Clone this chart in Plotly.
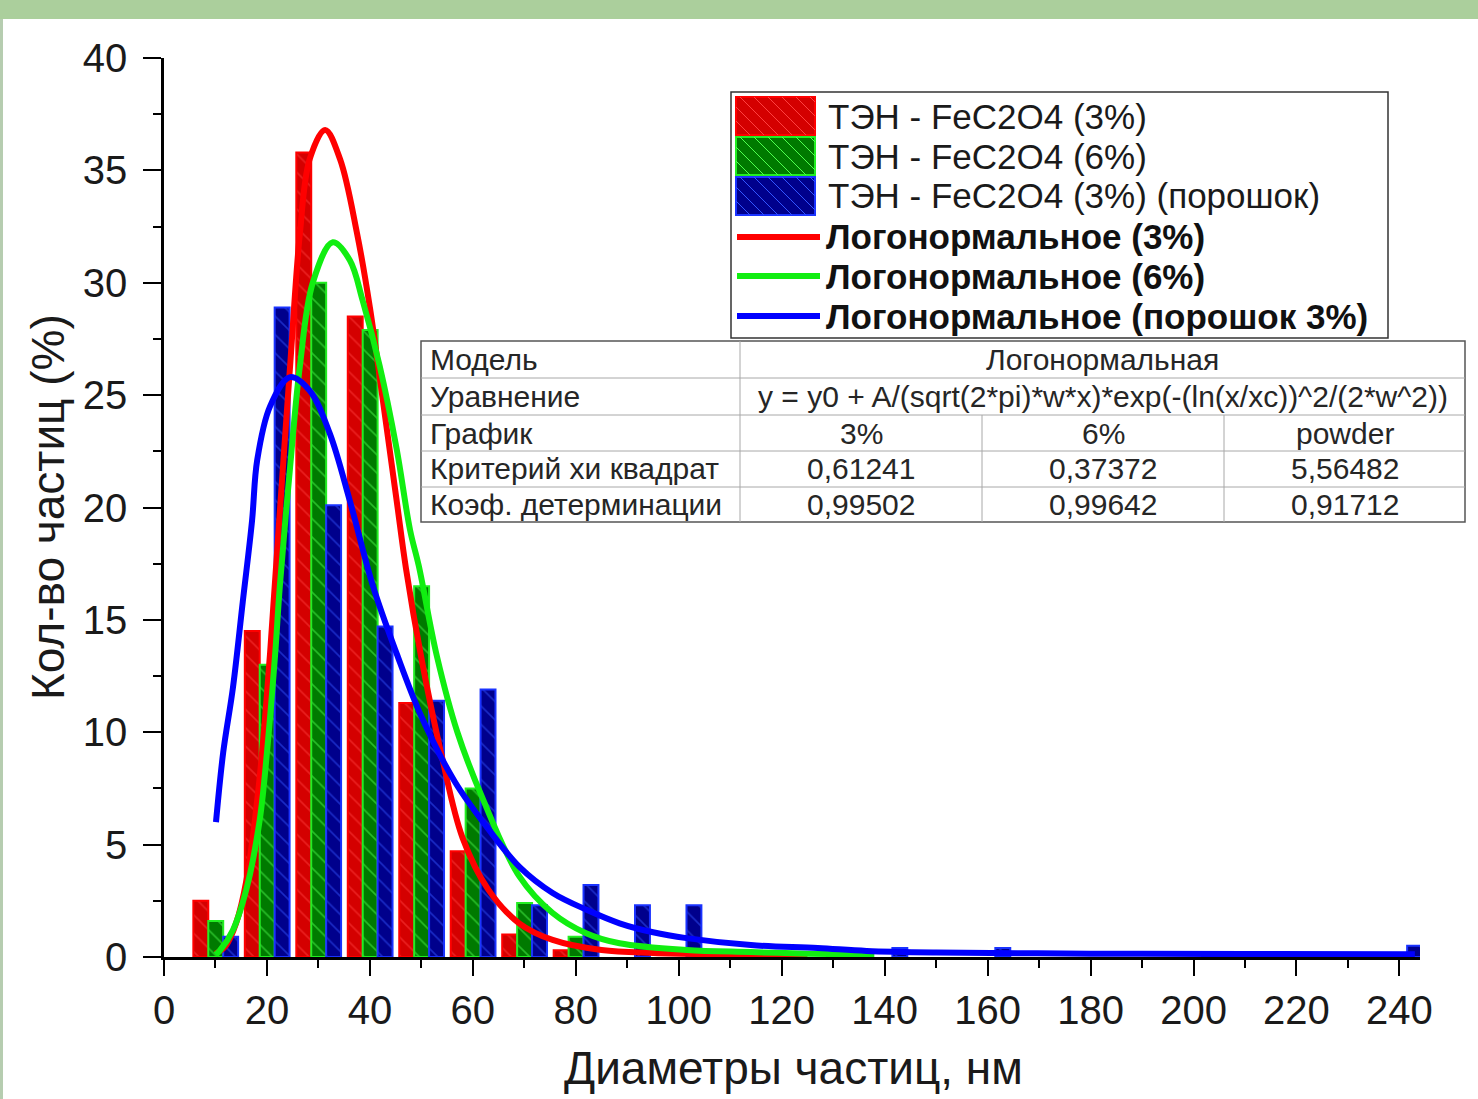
import plotly.graph_objects as go

# ---------------- data ----------------
red_x = [10, 20, 30, 40, 50, 60, 70, 80]
red_y = [2.5, 14.5, 35.8, 28.5, 11.3, 4.7, 1.0, 0.3]
green_x = [10, 20, 30, 40, 50, 60, 70, 80]
green_y = [1.6, 13.0, 30.0, 27.9, 16.5, 7.5, 2.4, 0.9]
blue_x = [10, 20, 30, 40, 50, 60, 70, 80, 90, 100, 140, 160, 240]
blue_y = [0.9, 28.9, 20.1, 14.7, 11.4, 11.9, 2.3, 3.2, 2.3, 2.3, 0.4, 0.4, 0.5]

fit_red_x = [10, 12, 14, 16, 18.5, 20.6, 22.5, 24.5, 26.4, 28.3, 31.3, 34.2, 37.5, 40, 42.5,
             45.2, 47, 50, 54, 58, 63, 69, 75.5, 85, 95, 110, 125]
fit_red_y = [0.15, 0.5, 1.5, 3.4, 7.8, 13.5, 19.8, 26.3, 32.2, 35.5, 36.8, 35.5, 32.2, 28.9, 24.8,
             20.3, 17.3, 13.3, 8.9, 5.3, 3.0, 1.5, 0.76, 0.31, 0.18, 0.12, 0.1]
fit_green_x = [10, 10.9, 13.4, 16.1, 18.6, 20, 21.6, 22.5, 24.5, 26.4, 28.9, 32.8, 36.1, 38.6,
               41.9, 45.2, 47.8, 49.5, 53, 57, 62, 69, 75.5, 82, 88.5, 101.5, 114, 125, 138]
fit_green_y = [0.1, 0.3, 1.2, 3.1, 6.1, 9.1, 13.5, 16.5, 21.8, 26.3, 30.0, 31.8, 31.0, 29.2,
               26.3, 22.6, 19.0, 17.4, 13.4, 10.0, 7.0, 3.6, 1.96, 1.06, 0.61, 0.31, 0.22, 0.15, 0.1]
fit_blue_x = [10.1, 11.5, 13.4, 15.3, 17.1, 18.1, 20.6, 24.5, 28.3, 32.2, 36.1, 40.6, 45.2, 50,
              56.5, 63, 69.1, 75.5, 82.1, 88.5, 95, 101.5, 114, 127, 136.5, 150, 180, 210, 243]
fit_blue_y = [6.0, 9.1, 12.0, 15.8, 19.4, 22.1, 24.5, 25.8, 25.2, 23.3, 20.3, 16.5, 13.5, 10.7,
              7.8, 5.7, 4.0, 2.85, 2.1, 1.5, 1.1, 0.84, 0.53, 0.4, 0.27, 0.2, 0.15, 0.13, 0.12]

bar_names = ["ТЭН - FeC2O4 (3%)", "ТЭН - FeC2O4 (6%)", "ТЭН - FeC2O4 (3%) (порошок)"]
fit_names = ["Логонормальное (3%)", "Логонормальное (6%)", "Логонормальное (порошок 3%)"]

table_rows = [
    ["Модель", "Логонормальная"],
    ["Уравнение", "y = y0 + A/(sqrt(2*pi)*w*x)*exp(-(ln(x/xc))^2/(2*w^2))"],
    ["График", "3%", "6%", "powder"],
    ["Критерий хи квадрат", "0,61241", "0,37372", "5,56482"],
    ["Коэф. детерминации", "0,99502", "0,99642", "0,91712"],
]

# ---------------- style ----------------
FONT = "Liberation Sans, Arial, sans-serif"
W, H = 1478, 1099
L, R, T, B = 164, 58, 58, 142
PW, PH = W - L - R, H - T - B


def px(x):
    return (x - L) / PW


def py(y):
    return (H - B - y) / PH


bar_styles = [
    dict(bg="#d40000", fg="#ff4040", edge="#ff0000", offset=-4.3),
    dict(bg="#007a00", fg="#50ff50", edge="#22ee22", offset=-1.4),
    dict(bg="#00008c", fg="#3355ff", edge="#1a33ff", offset=1.5),
]
line_colors = ["#ff0000", "#11ee11", "#0000ff"]

fig = go.Figure()
for (xs, ys, name, st) in zip([red_x, green_x, blue_x], [red_y, green_y, blue_y], bar_names, bar_styles):
    fig.add_trace(go.Bar(
        x=xs, y=ys, name=name, width=2.9, offset=st["offset"],
        marker=dict(color=st["bg"], line=dict(color=st["edge"], width=2),
                    pattern=dict(shape="\\", fgcolor=st["fg"], bgcolor=st["bg"],
                                 size=13, solidity=0.12, fillmode="overlay")),
        showlegend=False,
    ))

for (xs, ys, name, c) in zip([fit_red_x, fit_green_x, fit_blue_x], [fit_red_y, fit_green_y, fit_blue_y],
                             fit_names, line_colors):
    fig.add_trace(go.Scatter(x=xs, y=ys, name=name, mode="lines",
                             line=dict(color=c, width=6, shape="spline", smoothing=1.0),
                             showlegend=False))

shapes = []
annotations = []

# top green band and left edge
shapes.append(dict(type="rect", xref="paper", yref="paper", x0=px(0), x1=px(W), y0=py(19), y1=py(0),
                   fillcolor="#abcf9c", line=dict(width=0), layer="above"))
shapes.append(dict(type="rect", xref="paper", yref="paper", x0=px(0), x1=px(3), y0=py(H), y1=py(19),
                   fillcolor="#b6cdb0", line=dict(width=0), layer="above"))

# ---- legend (drawn) ----
lx0, lx1, ly0, ly1 = 731, 1388, 92, 338
shapes.append(dict(type="rect", xref="paper", yref="paper", x0=px(lx0), x1=px(lx1), y0=py(ly1), y1=py(ly0),
                   fillcolor="white", line=dict(color="#333333", width=1.5), layer="above"))
row_c = [116, 156, 196, 237, 276, 316]
for i, st in enumerate(bar_styles):
    cy = row_c[i]
    sx0, sx1, sy0, sy1 = 736, 815, cy - 19, cy + 19
    shapes.append(dict(type="rect", xref="paper", yref="paper", x0=px(sx0), x1=px(sx1), y0=py(sy1), y1=py(sy0),
                       fillcolor=st["bg"], line=dict(color=st["edge"], width=2), layer="above"))
    hgt = sy1 - sy0
    k = sx0 - hgt
    while k < sx1:
        xa, ya = k, sy0
        xb, yb = k + hgt, sy1
        if xa < sx0:
            ya = sy0 + (sx0 - xa)
            xa = sx0
        if xb > sx1:
            yb = sy1 - (xb - sx1)
            xb = sx1
        if xb > xa:
            shapes.append(dict(type="line", xref="paper", yref="paper", x0=px(xa), y0=py(ya), x1=px(xb), y1=py(yb),
                               line=dict(color=st["fg"], width=1), layer="above"))
        k += 14
    annotations.append(dict(xref="paper", yref="paper", x=px(826), y=py(cy), text=bar_names[i],
                            showarrow=False, xanchor="left", yanchor="middle",
                            font=dict(family=FONT, size=35, color="#1a1a1a")))
for i, c in enumerate(line_colors):
    cy = row_c[3 + i]
    shapes.append(dict(type="line", xref="paper", yref="paper", x0=px(737), x1=px(820), y0=py(cy), y1=py(cy),
                       line=dict(color=c, width=6), layer="above"))
    annotations.append(dict(xref="paper", yref="paper", x=px(824), y=py(cy), text="<b>" + fit_names[i] + "</b>",
                            showarrow=False, xanchor="left", yanchor="middle",
                            font=dict(family=FONT, size=35, color="#111111")))

# ---- statistics table (drawn) ----
tx = [421, 740, 982, 1224, 1465]
ty = [341, 378, 415, 451, 487, 522]
shapes.append(dict(type="rect", xref="paper", yref="paper", x0=px(tx[0]), x1=px(tx[-1]), y0=py(ty[-1]), y1=py(ty[0]),
                   fillcolor="white", line=dict(color="#555555", width=1.5), layer="above"))
for yy in ty[1:-1]:
    shapes.append(dict(type="line", xref="paper", yref="paper", x0=px(tx[0]), x1=px(tx[-1]), y0=py(yy), y1=py(yy),
                       line=dict(color="#a8a8a8", width=1), layer="above"))
shapes.append(dict(type="line", xref="paper", yref="paper", x0=px(tx[1]), x1=px(tx[1]), y0=py(ty[-1]), y1=py(ty[0]),
                   line=dict(color="#a8a8a8", width=1), layer="above"))
for xx in tx[2:4]:
    shapes.append(dict(type="line", xref="paper", yref="paper", x0=px(xx), x1=px(xx), y0=py(ty[-1]), y1=py(ty[2]),
                       line=dict(color="#a8a8a8", width=1), layer="above"))
tfont = dict(family=FONT, size=30, color="#262626")
for r, row in enumerate(table_rows):
    cy = (ty[r] + ty[r + 1]) / 2
    annotations.append(dict(xref="paper", yref="paper", x=px(428), y=py(cy), text=row[0], showarrow=False,
                            xanchor="left", yanchor="middle", font=tfont))
    if len(row) == 2:
        annotations.append(dict(xref="paper", yref="paper", x=px((tx[1] + tx[4]) / 2), y=py(cy), text=row[1],
                                showarrow=False, xanchor="center", yanchor="middle", font=tfont))
    else:
        for c in range(3):
            annotations.append(dict(xref="paper", yref="paper", x=px((tx[c + 1] + tx[c + 2]) / 2), y=py(cy),
                                    text=row[c + 1], showarrow=False, xanchor="center", yanchor="middle",
                                    font=tfont))

# axis titles
annotations.append(dict(xref="paper", yref="paper", x=px(793), y=py(1068), text="Диаметры частиц, нм",
                        showarrow=False, xanchor="center", yanchor="middle",
                        font=dict(family=FONT, size=46, color="#1a1a1a")))
annotations.append(dict(xref="paper", yref="paper", x=px(48), y=py(507), text="Кол-во частиц (%)",
                        showarrow=False, xanchor="center", yanchor="middle", textangle=-90,
                        font=dict(family=FONT, size=46, color="#1a1a1a")))

fig.update_layout(
    width=W, height=H,
    margin=dict(l=L, r=R, t=T, b=B, pad=0),
    paper_bgcolor="white", plot_bgcolor="white",
    barmode="overlay",
    showlegend=False,
    shapes=shapes,
    annotations=annotations,
    font=dict(family=FONT, color="#1a1a1a"),
)
fig.update_xaxes(range=[0, 244], tickmode="linear", tick0=0, dtick=20, showgrid=False, zeroline=False,
                 showline=True, linecolor="black", linewidth=2.5, ticks="outside", ticklen=16, tickwidth=2,
                 tickcolor="black", ticklabelstandoff=0,
                 tickfont=dict(family=FONT, size=40, color="#1a1a1a"),
                 minor=dict(dtick=10, ticks="outside", ticklen=8, tickwidth=2, tickcolor="black"))
fig.update_yaxes(range=[0, 40], tickmode="linear", tick0=0, dtick=5, showgrid=False, zeroline=False,
                 showline=True, linecolor="black", linewidth=2.5, ticks="outside", ticklen=18, tickwidth=2,
                 tickcolor="black", ticklabelstandoff=8,
                 tickfont=dict(family=FONT, size=40, color="#1a1a1a"),
                 minor=dict(dtick=2.5, ticks="outside", ticklen=8, tickwidth=2, tickcolor="black"))

fig.write_html("out.html")
